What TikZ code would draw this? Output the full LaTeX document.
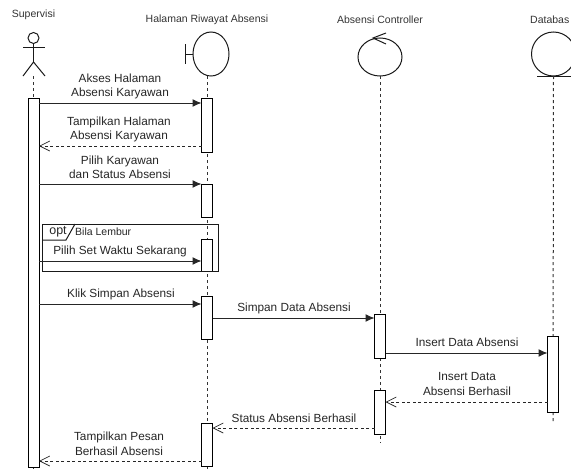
\documentclass[tikz,border=0pt]{standalone}
\usepackage{fontspec}
\setmainfont{Liberation Sans}
\usetikzlibrary{arrows, arrows.meta}
\usetikzlibrary{shapes.geometric}

\tikzset{
  head/.style={font=\fontsize{10.5}{12}\selectfont, text=black!80, inner sep=0pt},
  lbl/.style={font=\fontsize{11.8}{14.5}\selectfont, text=black!85, align=center, inner sep=0pt},
  bar/.style={draw, fill=white, line width=1pt, minimum width=11pt, inner sep=0pt, outer sep=0pt},
  life/.style={line width=1pt, dash pattern=on 3pt off 3pt, black!80},
  msg/.style={line width=1pt, black!85, -{Latex[length=9pt,width=8pt]}},
  ret/.style={line width=0.7pt, black!85, dash pattern=on 3pt off 2.5pt, -{Straight Barb[length=10pt,width=10pt]}},
  shape line/.style={line width=1pt, black!90}
}

\begin{document}
\begin{tikzpicture}[x=1pt,y=-1pt]
\clip (0,0) rectangle (571,471);

% titles
\node[head] (supTitle) at (33.5,15) {Supervisi};
\node[head] (halTitle) at (207,20) {Halaman Riwayat Absensi};
\node[head] (ctlTitle) at (380,20) {Absensi Controller};
\node[head,anchor=west] (dbTitle) at (530,20) {Databas};

% lifeline ends
\coordinate (supTop) at (33.5,76);
\coordinate (supEnd) at (33.5,471);
\coordinate (halTop) at (207,76);
\coordinate (halEnd) at (207,471);
\coordinate (ctlEnd) at (380,443);
\coordinate (dbEnd) at (553,423);

\draw[life] (supTop) -- (supEnd);
\draw[life] (halTop) -- (halEnd);

% actor
\node[draw,shape line,circle,minimum size=11pt,inner sep=0pt,outer sep=0pt] (supHead) at (33.5,38) {};
\coordinate (supHip) at (33.5,62);
\coordinate (supArmL) at (23,47);
\coordinate (supArmR) at (45,47);
\coordinate (supLegL) at (23,76);
\coordinate (supLegR) at (45,76);
\draw[shape line] (supHead.south) -- (supHip);
\draw[shape line] (supArmL) -- (supArmR);
\draw[shape line] (supLegL) -- (supHip) -- (supLegR);

% boundary
\node[draw,shape line,ellipse,minimum width=36pt,minimum height=44pt,inner sep=0pt,outer sep=0pt] (hal) at (211,54) {};
\coordinate (halTick) at (185,54);
\coordinate (halTickA) at (185,44);
\coordinate (halTickB) at (185,64);
\draw[shape line] (halTickA) -- (halTickB);
\draw[shape line] (halTick) -- (hal.west);

% control
\node[draw,shape line,ellipse,minimum width=44pt,minimum height=38pt,inner sep=0pt,outer sep=0pt] (ctl) at (380,57) {};
\coordinate (ctlTip) at (373,38);
\coordinate (ctlBarbA) at (386,33);
\coordinate (ctlBarbB) at (386,44);
\draw[shape line] (ctlBarbA) -- (ctlTip) -- (ctlBarbB);
\draw[life] (ctl.south) -- (ctlEnd);

% entity
\node[draw,shape line,circle,minimum size=44pt,inner sep=0pt,outer sep=0pt] (db) at (553.5,54) {};
\coordinate (dbLineA) at (537,76);
\coordinate (dbLineB) at (571,76);
\draw[shape line] (dbLineA) -- (dbLineB);
\draw[life] (db.south) -- (dbEnd);

% activations
\node[bar,minimum height=369pt] (supBar) at (33.5,282.5) {};
\node[bar,minimum height=54pt] (halA) at (207,125) {};
\node[bar,minimum height=33pt] (halB) at (207,200.5) {};
\node[bar,minimum height=32pt] (halC) at (207,255) {};
\node[bar,minimum height=43pt] (halD) at (207,317.5) {};
\node[bar,minimum height=43pt] (halE) at (207,444.5) {};
\node[bar,minimum height=44pt] (ctlA) at (380,336) {};
\node[bar,minimum height=44pt] (ctlB) at (380,412) {};
\node[bar,minimum height=76pt] (dbA) at (553,374) {};

% opt frame
\coordinate (optA) at (42.5,224);
\coordinate (optB) at (218,271);
\coordinate (optC) at (42.5,240);
\coordinate (optD) at (66,240);
\coordinate (optE) at (75,224);
\draw[shape line] (optA) rectangle (optB);
\draw[shape line] (optC) -- (optD) -- (optE);
\node[lbl,font=\fontsize{12.5}{13}\selectfont] (optLbl) at (58,232) {opt};
\node[lbl,font=\fontsize{10.5}{12}\selectfont,anchor=west] (optCond) at (75,232) {Bila Lembur};

% messages
\draw[msg] (supBar.east |- 0,103) -- (halA.west |- 0,103);
\node[lbl] (m1) at (120,86.5) {Akses Halaman\\Absensi Karyawan};

\draw[ret] (halA.west |- 0,146) -- (supBar.east |- 0,146);
\node[lbl] (m2) at (119,129.5) {Tampilkan Halaman\\Absensi Karyawan};

\draw[msg] (supBar.east |- 0,184) -- (halB.west |- 0,184);
\node[lbl] (m3) at (120,167.5) {Pilih Karyawan\\dan Status Absensi};

\draw[msg] (supBar.east |- 0,261) -- (halC.west |- 0,261);
\node[lbl] (m4) at (120,251) {Pilih Set Waktu Sekarang};

\draw[msg] (supBar.east |- 0,304) -- (halD.west |- 0,304);
\node[lbl] (m5) at (121,294) {Klik Simpan Absensi};

\draw[msg] (halD.east |- 0,318) -- (ctlA.west |- 0,318);
\node[lbl] (m6) at (294,308) {Simpan Data Absensi};

\draw[msg] (ctlA.east |- 0,353) -- (dbA.west |- 0,353);
\node[lbl] (m7) at (467,342) {Insert Data Absensi};

\draw[ret] (dbA.west |- 0,402) -- (ctlB.east |- 0,402);
\node[lbl] (m8) at (467,384) {Insert Data\\Absensi Berhasil};

\draw[ret] (ctlB.west |- 0,428) -- (halE.east |- 0,428);
\node[lbl] (m9) at (294,418) {Status Absensi Berhasil};

\draw[ret] (halE.west |- 0,461) -- (supBar.east |- 0,461);
\node[lbl] (m10) at (119,444) {Tampilkan Pesan\\Berhasil Absensi};

\end{tikzpicture}
\end{document}
